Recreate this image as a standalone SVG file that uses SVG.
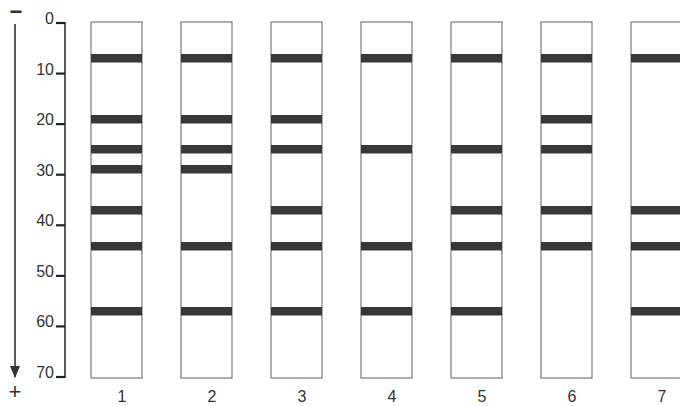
<svg xmlns="http://www.w3.org/2000/svg" width="680" height="406" viewBox="0 0 680 406">
<style>
.lane{fill:#fff;stroke:#7a7a7a;stroke-width:1.2}
.band{fill:#383838}
.t{font-family:"Liberation Sans",Arial,sans-serif;font-size:16px;fill:#333}
.ax{stroke:#333;stroke-width:1.6;fill:none}
.tick{stroke:#222;stroke-width:2.2}
</style>
<defs>
<marker id="ah" markerWidth="12" markerHeight="10" refX="11" refY="5" orient="auto" markerUnits="userSpaceOnUse" viewBox="0 0 12 10">
<path d="M0,0 L12,5 L0,10 Z" fill="#333"/>
</marker>
</defs>
<g id="direction">
<text class="t" x="16" y="19" text-anchor="middle" style="font-size:22px;font-weight:bold">−</text>
<line class="ax" x1="15" y1="24" x2="15" y2="377" stroke-width="1.2" marker-end="url(#ah)"/>
<text class="t" x="15" y="399" text-anchor="middle" style="font-size:22px">+</text>
</g>
<g id="axis">
<line class="ax" x1="65" y1="22" x2="65" y2="378"/>
<g class="tick">
<line x1="56" y1="23" x2="65" y2="23"/>
<line x1="56" y1="73.6" x2="65" y2="73.6"/>
<line x1="56" y1="124.1" x2="65" y2="124.1"/>
<line x1="56" y1="174.7" x2="65" y2="174.7"/>
<line x1="56" y1="225.3" x2="65" y2="225.3"/>
<line x1="56" y1="275.9" x2="65" y2="275.9"/>
<line x1="56" y1="326.4" x2="65" y2="326.4"/>
<line x1="56" y1="377" x2="65" y2="377"/>
</g>
<g class="t" text-anchor="end">
<text x="54" y="24">0</text>
<text x="54" y="75">10</text>
<text x="54" y="125">20</text>
<text x="54" y="176">30</text>
<text x="54" y="226">40</text>
<text x="54" y="277">50</text>
<text x="54" y="327">60</text>
<text x="54" y="378">70</text>
</g>
</g>
<g id="lane1">
<rect class="lane" x="91" y="22" width="51" height="356"/>
<rect class="band" x="91" y="54" width="51" height="8.5"/>
<rect class="band" x="91" y="115" width="51" height="8.5"/>
<rect class="band" x="91" y="145" width="51" height="8.5"/>
<rect class="band" x="91" y="165" width="51" height="8.5"/>
<rect class="band" x="91" y="206" width="51" height="8.5"/>
<rect class="band" x="91" y="242" width="51" height="8.5"/>
<rect class="band" x="91" y="307" width="51" height="8.5"/>
<text class="t" x="122" y="402" text-anchor="middle">1</text>
</g>
<g id="lane2">
<rect class="lane" x="181" y="22" width="51" height="356"/>
<rect class="band" x="181" y="54" width="51" height="8.5"/>
<rect class="band" x="181" y="115" width="51" height="8.5"/>
<rect class="band" x="181" y="145" width="51" height="8.5"/>
<rect class="band" x="181" y="165" width="51" height="8.5"/>
<rect class="band" x="181" y="242" width="51" height="8.5"/>
<rect class="band" x="181" y="307" width="51" height="8.5"/>
<text class="t" x="212" y="402" text-anchor="middle">2</text>
</g>
<g id="lane3">
<rect class="lane" x="271" y="22" width="51" height="356"/>
<rect class="band" x="271" y="54" width="51" height="8.5"/>
<rect class="band" x="271" y="115" width="51" height="8.5"/>
<rect class="band" x="271" y="145" width="51" height="8.5"/>
<rect class="band" x="271" y="206" width="51" height="8.5"/>
<rect class="band" x="271" y="242" width="51" height="8.5"/>
<rect class="band" x="271" y="307" width="51" height="8.5"/>
<text class="t" x="302" y="402" text-anchor="middle">3</text>
</g>
<g id="lane4">
<rect class="lane" x="361" y="22" width="51" height="356"/>
<rect class="band" x="361" y="54" width="51" height="8.5"/>
<rect class="band" x="361" y="145" width="51" height="8.5"/>
<rect class="band" x="361" y="242" width="51" height="8.5"/>
<rect class="band" x="361" y="307" width="51" height="8.5"/>
<text class="t" x="392" y="402" text-anchor="middle">4</text>
</g>
<g id="lane5">
<rect class="lane" x="451" y="22" width="51" height="356"/>
<rect class="band" x="451" y="54" width="51" height="8.5"/>
<rect class="band" x="451" y="145" width="51" height="8.5"/>
<rect class="band" x="451" y="206" width="51" height="8.5"/>
<rect class="band" x="451" y="242" width="51" height="8.5"/>
<rect class="band" x="451" y="307" width="51" height="8.5"/>
<text class="t" x="482" y="402" text-anchor="middle">5</text>
</g>
<g id="lane6">
<rect class="lane" x="541" y="22" width="51" height="356"/>
<rect class="band" x="541" y="54" width="51" height="8.5"/>
<rect class="band" x="541" y="115" width="51" height="8.5"/>
<rect class="band" x="541" y="145" width="51" height="8.5"/>
<rect class="band" x="541" y="206" width="51" height="8.5"/>
<rect class="band" x="541" y="242" width="51" height="8.5"/>
<text class="t" x="572" y="402" text-anchor="middle">6</text>
</g>
<g id="lane7">
<rect class="lane" x="631" y="22" width="51" height="356"/>
<rect class="band" x="631" y="54" width="51" height="8.5"/>
<rect class="band" x="631" y="206" width="51" height="8.5"/>
<rect class="band" x="631" y="242" width="51" height="8.5"/>
<rect class="band" x="631" y="307" width="51" height="8.5"/>
<text class="t" x="662" y="402" text-anchor="middle">7</text>
</g>
<g id="connectors"></g>
</svg>
